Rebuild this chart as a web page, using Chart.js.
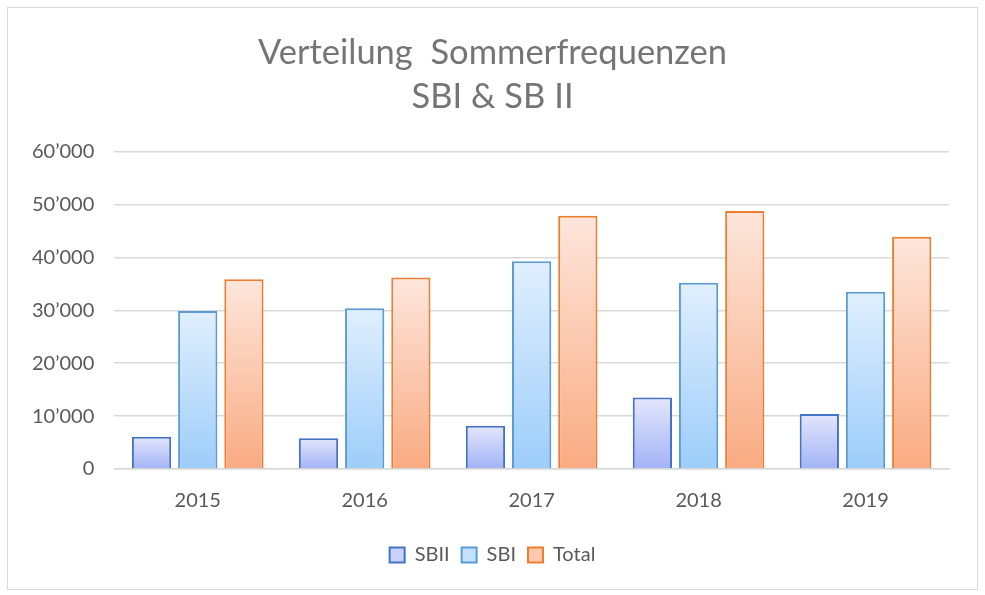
<!DOCTYPE html>
<html>
<head>
<meta charset="utf-8">
<script src="https://cdn.jsdelivr.net/npm/chart.js@4.4.1/dist/chart.umd.min.js"></script>
<style>
  body { margin: 0; background: #fff; }
  #wrap {
    position: absolute; left: 7px; top: 7px;
    width: 969px; height: 581px;
    border: 1px solid #d9d9d9; background: #fff;
  }
</style>
</head>
<body>
<div id="wrap"><canvas id="chart" width="969" height="581"></canvas></div>
<script>
const years = ['2015', '2016', '2017', '2018', '2019'];
const sbII = [6100, 5800, 8200, 13500, 10400];
const sbI = [29900, 30400, 39300, 35200, 33500];
const total = [35900, 36200, 47900, 48800, 43900];

const titleLines = ['Verteilung  Sommerfrequenzen', 'SBI & SB II'];
const fontFamily = 'Lato, "Open Sans", sans-serif';

// gradient per bar, light at top and darker at bottom
function barGradient(topColor, bottomColor) {
  return (context) => {
    const chart = context.chart;
    const yScale = chart.scales.y;
    if (!chart.chartArea || !yScale || context.parsed == null) return bottomColor;
    const top = yScale.getPixelForValue(context.parsed.y);
    const base = yScale.getPixelForValue(0);
    if (!isFinite(top) || !isFinite(base) || top === base) return bottomColor;
    const g = chart.ctx.createLinearGradient(0, top, 0, base);
    g.addColorStop(0, topColor);
    g.addColorStop(1, bottomColor);
    return g;
  };
}

const legendFill = ['#c9d2fa', '#c3e1fc', '#fcc9ae'];

function fmt(v) {
  return String(v).replace(/\B(?=(\d{3})+(?!\d))/g, '\u2019');
}

// padding is lopsided (left 4, right 28), so center title and legend on the whole canvas
const centerBlocks = {
  id: 'centerBlocks',
  afterLayout(chart) {
    [chart.titleBlock, chart.legend].forEach((b) => {
      if (!b) return;
      b.left = 0;
      b.right = chart.width;
      b.width = chart.width;
    });
  },
};

new Chart(document.getElementById('chart'), {
  type: 'bar',
  data: {
    labels: years,
    datasets: [
      {
        label: 'SBII',
        data: sbII,
        backgroundColor: barGradient('#e3e6fc', '#a2b3f6'),
        borderColor: '#4472c4',
        borderWidth: 2,
      },
      {
        label: 'SBI',
        data: sbI,
        backgroundColor: barGradient('#e0effd', '#9dcdfa'),
        borderColor: '#5b9bd5',
        borderWidth: 2,
      },
      {
        label: 'Total',
        data: total,
        backgroundColor: barGradient('#fde6dc', '#f9ab82'),
        borderColor: '#ed7d31',
        borderWidth: 2,
      },
    ],
  },
  options: {
    responsive: false,
    animation: false,
    layout: { padding: { left: 4, right: 28, top: 0, bottom: 14 } },
    datasets: {
      bar: { categoryPercentage: 0.83, barPercentage: 0.85 },
    },
    scales: {
      x: {
        grid: { display: false, drawTicks: false },
        border: { color: '#d9d9d9', width: 1.5 },
        ticks: { color: '#595959', font: { family: fontFamily, size: 20 }, padding: 20 },
      },
      y: {
        min: 0,
        max: 60000,
        grid: { color: '#d9d9d9', lineWidth: 1.5, drawTicks: false },
        border: { display: false },
        ticks: {
          stepSize: 10000,
          color: '#595959',
          padding: 20,
          font: { family: fontFamily, size: 20 },
          callback: (v) => fmt(v),
        },
      },
    },
    plugins: {
      title: {
        display: true,
        text: titleLines,
        color: '#757575',
        font: { family: fontFamily, size: 34.5, weight: 'normal', lineHeight: 1.3 },
        padding: { top: 22, bottom: 32 },
      },
      legend: {
        position: 'bottom',
        labels: {
          color: '#595959',
          font: { family: fontFamily, size: 20 },
          boxWidth: 15,
          boxHeight: 15,
          padding: 12,
          generateLabels: (chart) =>
            chart.data.datasets.map((ds, i) => ({
              text: ds.label,
              fillStyle: legendFill[i],
              strokeStyle: ds.borderColor,
              lineWidth: 2,
              fontColor: '#595959',
              datasetIndex: i,
            })),
        },
      },
      tooltip: { enabled: false },
    },
  },
  plugins: [centerBlocks],
});
</script>
</body>
</html>
